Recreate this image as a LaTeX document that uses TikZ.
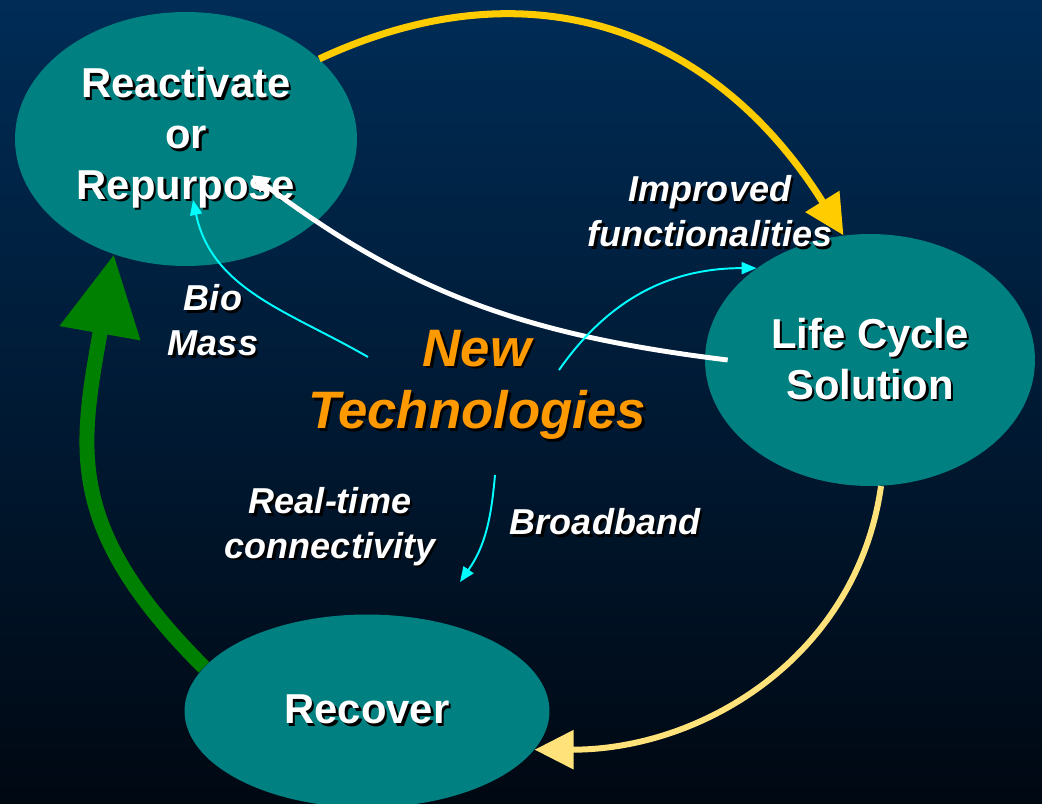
\documentclass[tikz,border=0pt]{standalone}
\usepackage{fontspec}
\setmainfont{Liberation Sans}
\usetikzlibrary{shapes.geometric,arrows.meta}
\definecolor{bgtop}{RGB}{0,44,86}
\definecolor{bgbot}{RGB}{0,8,18}
\definecolor{cyclefill}{RGB}{0,128,128}
\definecolor{goldarrow}{RGB}{255,204,0}
\definecolor{palegold}{RGB}{255,226,122}
\definecolor{greenarrow}{RGB}{0,128,0}
\definecolor{techorange}{RGB}{255,153,0}
\definecolor{techcyan}{RGB}{0,255,255}
% text with a black drop shadow
\newcommand{\shtxt}[2][white]{\leavevmode\rlap{\kern1.4pt\raisebox{-1.4pt}{\color{black}#2}}{\color{#1}#2}}

\begin{document}
\begin{tikzpicture}[x=0.02cm, y=-0.02cm,
  stage/.style={ellipse, fill=cyclefill, inner sep=0pt, align=center,
                font=\fontsize{23.8}{29}\selectfont\bfseries},
  lbl/.style={align=center, inner sep=0pt,
              font=\fontsize{20.5}{25.5}\selectfont\bfseries\itshape},
  techlbl/.style={align=center, inner sep=0pt,
                  font=\fontsize{30}{35.7}\selectfont\bfseries\itshape},
  tech/.style={draw=techcyan, line width=1.1pt,
               -{Triangle[length=0.3cm, width=0.24cm]}}
]
\useasboundingbox (0,0) rectangle (1042,804);
\shade[top color=bgtop, bottom color=bgbot] (0,0) rectangle (1042,804);

% cycle stages
\node[stage, minimum width=6.84cm, minimum height=5.08cm] (react)   at (186,139) {\shtxt{Reactivate}\\\shtxt{or}\\\shtxt{Repurpose}};
\node[stage, minimum width=6.6cm,  minimum height=5.04cm] (life)    at (870,360) {\shtxt{Life Cycle}\\\shtxt{Solution}};
\node[stage, minimum width=7.3cm,  minimum height=3.86cm] (recover) at (367,711) {\shtxt{Recover}};

% labels
\node[lbl]     (biomass)   at (213,321.5) {\shtxt{Bio}\\\shtxt{Mass}};
\node[lbl]     (improved)  at (710,212.5) {\shtxt{Improved}\\\shtxt{functionalities}};
\node[lbl]     (realtime)  at (330,528)   {\shtxt{Real-time}\\\shtxt{connectivity}};
\node[lbl]     (broadband) at (605,523)   {\shtxt{Broadband}};
\node[techlbl] (newtech)   at (477,386)   {\shtxt[techorange]{New}\\\shtxt[techorange]{Technologies}};

% cycle arrows
\draw[goldarrow, line width=4pt, -{Triangle[length=0.8cm, width=0.77cm]}]
  (react.31) to[out=25, in=122, looseness=1.1] (life.102);
\draw[palegold, line width=3.4pt, -{Triangle[length=0.78cm, width=0.76cm]}]
  (life.275) to[out=-98, in=0] (recover.347);
\draw[greenarrow, line width=8.5pt, -{Triangle[length=1.6cm, width=1.56cm]}]
  (recover.165) to[out=135, in=260, looseness=1.2] (react.238);
\coordinate (rp-tip) at ([shift={(66,36)}]react.center);
\draw[white, line width=2.8pt, -{Triangle[length=0.34cm, width=0.34cm]}]
  ([xshift=0.46cm]life.west) to[out=173, in=-37] (rp-tip);

% technology arrows
\coordinate (bio-from)  at (368,357);
\coordinate (bio-tip)   at (193,200);
\coordinate (func-from) at (559,370);
\coordinate (rt-from)   at (495,475);
\coordinate (rt-tip)    at (460,582);
\draw[tech] (bio-from)  to[out=150, in=-78] (bio-tip);
\draw[tech] (func-from) to[out=55, in=180]  (life.141);
\draw[tech] (rt-from)   to[out=-95, in=55]  (rt-tip);
\end{tikzpicture}
\end{document}
